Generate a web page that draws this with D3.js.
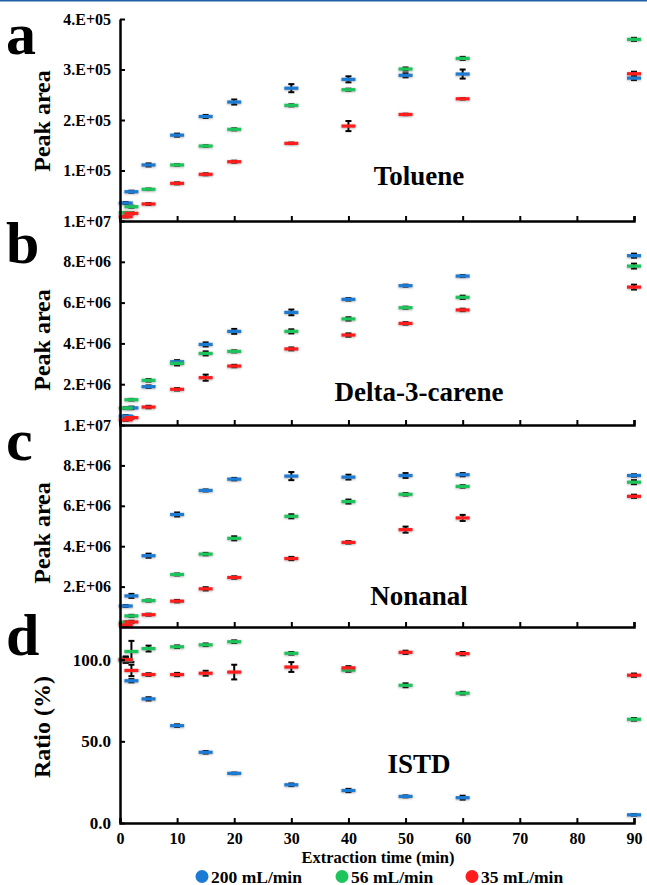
<!DOCTYPE html>
<html lang="en">
<head>
<meta charset="UTF-8">
<title>Peak area vs extraction time</title>
<script src="https://d3js.org/d3.v7.min.js"></script>
<style>
  body { margin: 0; background: #fff; }
  svg { display: block; }
  text { font-family: "Liberation Serif", "DejaVu Serif", serif; font-weight: bold; fill: #000; }
  .axis path, .axis line { stroke: #000; }
</style>
</head>
<body>
<div id="chart"></div>
<script>
// extraction times (min)
const times = [1, 2, 5, 10, 15, 20, 30, 40, 50, 60, 90];
const xTicks = [0, 10, 20, 30, 40, 50, 60, 70, 80, 90];
const flows = ["200 mL/min", "56 mL/min", "35 mL/min"];
const flowColors = ["#1b7bd4", "#1ec45c", "#ff1c1c"];

// a: Toluene
const toluene200 = [35600, 58000, 111000, 170000, 207000, 235600, 263000, 280500, 288500, 291000, 283000];
const toluene56 = [16400, 28300, 62800, 111000, 148500, 181500, 229000, 260000, 301000, 322000, 359700];
const toluene35 = [8500, 15200, 33700, 74600, 92500, 117400, 153800, 188000, 211000, 242000, 291600];
const toluene200Err = [2000, 2000, 3000, 3000, 3000, 5000, 8000, 6000, 4000, 9000, 4000];
const toluene56Err = [1500, 2000, 1500, 1500, 1500, 2000, 2000, 2000, 3000, 3000, 3000];
const toluene35Err = [1500, 2000, 2000, 2000, 2000, 2000, 1500, 10000, 1500, 1500, 4000];
const tolueneTicks = [100000, 200000, 300000, 400000];
const tolueneTickLabels = ["1.E+05", "2.E+05", "3.E+05", "4.E+05"];

// b: Delta-3-carene
const carene200 = [0.44e6, 0.84e6, 1.88e6, 3.10e6, 3.95e6, 4.59e6, 5.52e6, 6.16e6, 6.83e6, 7.30e6, 8.30e6];
const carene56 = [0.83e6, 1.24e6, 2.19e6, 3.02e6, 3.51e6, 3.61e6, 4.59e6, 5.20e6, 5.75e6, 6.26e6, 7.79e6];
const carene35 = [0.25e6, 0.36e6, 0.88e6, 1.75e6, 2.32e6, 2.89e6, 3.73e6, 4.41e6, 4.98e6, 5.64e6, 6.76e6];
const carene200Err = [0.05e6, 0.06e6, 0.06e6, 0.08e6, 0.1e6, 0.12e6, 0.14e6, 0.06e6, 0.05e6, 0.05e6, 0.1e6];
const carene56Err = [0.04e6, 0.04e6, 0.06e6, 0.1e6, 0.1e6, 0.05e6, 0.1e6, 0.08e6, 0.05e6, 0.08e6, 0.12e6];
const carene35Err = [0.05e6, 0.05e6, 0.06e6, 0.06e6, 0.15e6, 0.06e6, 0.07e6, 0.08e6, 0.06e6, 0.06e6, 0.12e6];
const areaTicks = [2e6, 4e6, 6e6, 8e6, 1e7];
const areaTickLabels = ["2.E+06", "4.E+06", "6.E+06", "8.E+06", "1.E+07"];

// c: Nonanal
const nonanal200 = [1.04e6, 1.54e6, 3.53e6, 5.57e6, 6.76e6, 7.32e6, 7.47e6, 7.42e6, 7.50e6, 7.54e6, 7.50e6];
const nonanal56 = [0.23e6, 0.55e6, 1.31e6, 2.60e6, 3.61e6, 4.39e6, 5.48e6, 6.21e6, 6.57e6, 6.96e6, 7.17e6];
const nonanal35 = [0.10e6, 0.25e6, 0.61e6, 1.28e6, 1.89e6, 2.45e6, 3.39e6, 4.19e6, 4.82e6, 5.40e6, 6.47e6];
const nonanal200Err = [0.05e6, 0.1e6, 0.1e6, 0.1e6, 0.05e6, 0.06e6, 0.2e6, 0.12e6, 0.12e6, 0.08e6, 0.06e6];
const nonanal56Err = [0.04e6, 0.05e6, 0.05e6, 0.05e6, 0.06e6, 0.1e6, 0.1e6, 0.1e6, 0.06e6, 0.06e6, 0.1e6];
const nonanal35Err = [0.05e6, 0.06e6, 0.05e6, 0.06e6, 0.08e6, 0.06e6, 0.08e6, 0.06e6, 0.15e6, 0.15e6, 0.08e6];

// d: ISTD ratio (%)
const istd200 = [100, 87.1, 76.0, 59.6, 43.3, 30.4, 23.4, 19.9, 16.3, 15.5, 5.0];
const istd56 = [100, 105.0, 106.8, 107.9, 109.1, 111.0, 103.9, 93.6, 84.3, 79.5, 63.5];
const istd35 = [100, 93.4, 90.9, 90.9, 91.7, 92.4, 95.5, 95.0, 104.5, 103.7, 90.5];
const istd200Err = [1.5, 1, 1, 0.8, 0.8, 0.5, 0.8, 1, 0.6, 1.2, 0.5];
const istd56Err = [1.5, 6.5, 1.8, 0.8, 0.8, 0.8, 0.8, 1, 1.2, 0.8, 0.8];
const istd35Err = [2, 3.5, 0.8, 1, 1.5, 4.5, 3, 1, 1, 1, 1];
const ratioTicks = [0, 50, 100];
const ratioTickLabels = ["0.0", "50.0", "100.0"];

const panels = [
  { letter: "a", name: "Toluene", yTitle: "Peak area", max: 4e5, top: 19, bottom: 221,
    series: [toluene200, toluene56, toluene35], errs: [toluene200Err, toluene56Err, toluene35Err],
    ticks: tolueneTicks, labels: tolueneTickLabels, letterY: 54, nameY: 185, titleY: 121 },
  { letter: "b", name: "Delta-3-carene", yTitle: "Peak area", max: 1e7, top: 221, bottom: 425,
    series: [carene200, carene56, carene35], errs: [carene200Err, carene56Err, carene35Err],
    ticks: areaTicks, labels: areaTickLabels, letterY: 263, nameY: 401, titleY: 340 },
  { letter: "c", name: "Nonanal", yTitle: "Peak area", max: 1e7, top: 425, bottom: 627,
    series: [nonanal200, nonanal56, nonanal35], errs: [nonanal200Err, nonanal56Err, nonanal35Err],
    ticks: areaTicks, labels: areaTickLabels, letterY: 460, nameY: 605, titleY: 533 },
  { letter: "d", name: "ISTD", yTitle: "Ratio (%)", max: 120, top: 627, bottom: 823,
    series: [istd200, istd56, istd35], errs: [istd200Err, istd56Err, istd35Err],
    ticks: ratioTicks, labels: ratioTickLabels, letterY: 655, nameY: 773, titleY: 727 }
];

const FONT = '"Liberation Serif", "DejaVu Serif", serif';
const width = 647, height = 885;
const svg = d3.select("#chart").append("svg")
  .attr("width", width)
  .attr("height", height);

// soft halo around the dash markers
const filter = svg.append("defs").append("filter")
  .attr("id", "halo")
  .attr("x", "-30%").attr("y", "-150%")
  .attr("width", "160%").attr("height", "400%");
filter.append("feDropShadow")
  .attr("dx", 0).attr("dy", 0.6)
  .attr("stdDeviation", 1.1)
  .attr("flood-color", "#555")
  .attr("flood-opacity", 0.55);

// page border line at the very top
svg.append("rect")
  .attr("x", 0).attr("y", 0)
  .attr("width", width).attr("height", 1.5)
  .attr("fill", "#1f5fa6");

const x = d3.scaleLinear().domain([0, 90]).range([120, 634]);
const dashW = 14;

panels.forEach((p, pi) => {
  const y = d3.scaleLinear().domain([0, p.max]).range([p.bottom, p.top]);
  const g = svg.append("g");

  // error bars
  p.series.forEach((vals, si) => {
    const errs = p.errs[si];
    const eg = g.append("g");
    eg.selectAll("line.err")
      .data(times)
      .join("line")
      .attr("x1", d => x(d)).attr("x2", d => x(d))
      .attr("y1", (d, i) => y(vals[i] - errs[i]))
      .attr("y2", (d, i) => y(vals[i] + errs[i]))
      .attr("stroke", "#000")
      .attr("stroke-width", 2);
    [1, -1].forEach(sign => {
      eg.selectAll("line.cap" + sign)
        .data(times)
        .join("line")
        .attr("x1", d => x(d) - 3).attr("x2", d => x(d) + 3)
        .attr("y1", (d, i) => y(vals[i] + sign * errs[i]))
        .attr("y2", (d, i) => y(vals[i] + sign * errs[i]))
        .attr("stroke", "#000")
        .attr("stroke-width", 2);
    });
  });

  // dash markers
  p.series.forEach((vals, si) => {
    g.append("g")
      .attr("filter", "url(#halo)")
      .selectAll("rect")
      .data(times)
      .join("rect")
      .attr("x", d => x(d) - dashW / 2)
      .attr("y", (d, i) => y(vals[i]) - 1.6)
      .attr("width", dashW)
      .attr("height", 3.2)
      .attr("fill", flowColors[si]);
  });

  // y axis (ticks inward)
  const yAxis = d3.axisLeft(y)
    .tickValues(p.ticks)
    .tickFormat((d, i) => p.labels[i])
    .tickSizeInner(-5)
    .tickSizeOuter(0)
    .tickPadding(9);
  const ya = g.append("g")
    .attr("class", "axis")
    .attr("transform", "translate(120,0)")
    .call(yAxis)
    .attr("font-family", FONT);
  ya.select(".domain").attr("stroke-width", 2.5);
  ya.selectAll(".tick line").attr("stroke-width", 2);
  ya.selectAll(".tick text")
    .attr("font-family", FONT)
    .attr("font-size", pi === 3 ? 17 : 16);

  // x axis at bottom of each panel (ticks pointing up)
  const xAxis = d3.axisBottom(x)
    .tickValues(xTicks)
    .tickSizeInner(-5)
    .tickSizeOuter(-5)
    .tickPadding(10)
    .tickFormat(pi === 3 ? d3.format("d") : () => "");
  const xa = g.append("g")
    .attr("class", "axis")
    .attr("transform", `translate(0,${p.bottom})`)
    .call(xAxis)
    .attr("font-family", FONT);
  xa.select(".domain").attr("stroke-width", 2.5);
  xa.selectAll(".tick line").attr("stroke-width", 2);
  xa.selectAll(".tick text")
    .attr("font-family", FONT)
    .attr("font-size", 16);

  // panel letter
  svg.append("text")
    .attr("x", 6).attr("y", p.letterY)
    .attr("font-family", FONT)
    .attr("font-size", 60)
    .text(p.letter);

  // y title
  svg.append("text")
    .attr("transform", `translate(50,${p.titleY}) rotate(-90)`)
    .attr("text-anchor", "middle")
    .attr("font-family", FONT)
    .attr("font-size", 24)
    .text(p.yTitle);

  // compound name
  svg.append("text")
    .attr("x", 419).attr("y", p.nameY)
    .attr("text-anchor", "middle")
    .attr("font-family", FONT)
    .attr("font-size", 27)
    .text(p.name);
});

// x axis title
svg.append("text")
  .attr("x", 378).attr("y", 862.5)
  .attr("text-anchor", "middle")
  .attr("font-family", FONT)
  .attr("font-size", 16.5)
  .text("Extraction time (min)");

// legend
const legendX = [202, 342, 472];
const legend = svg.append("g");
flows.forEach((f, i) => {
  legend.append("circle")
    .attr("cx", legendX[i]).attr("cy", 876.5)
    .attr("r", 6.5)
    .attr("fill", flowColors[i]);
  legend.append("text")
    .attr("x", legendX[i] + 9).attr("y", 882.5)
    .attr("font-family", FONT)
    .attr("font-size", 17.5)
    .text(f);
});
</script>
</body>
</html>
